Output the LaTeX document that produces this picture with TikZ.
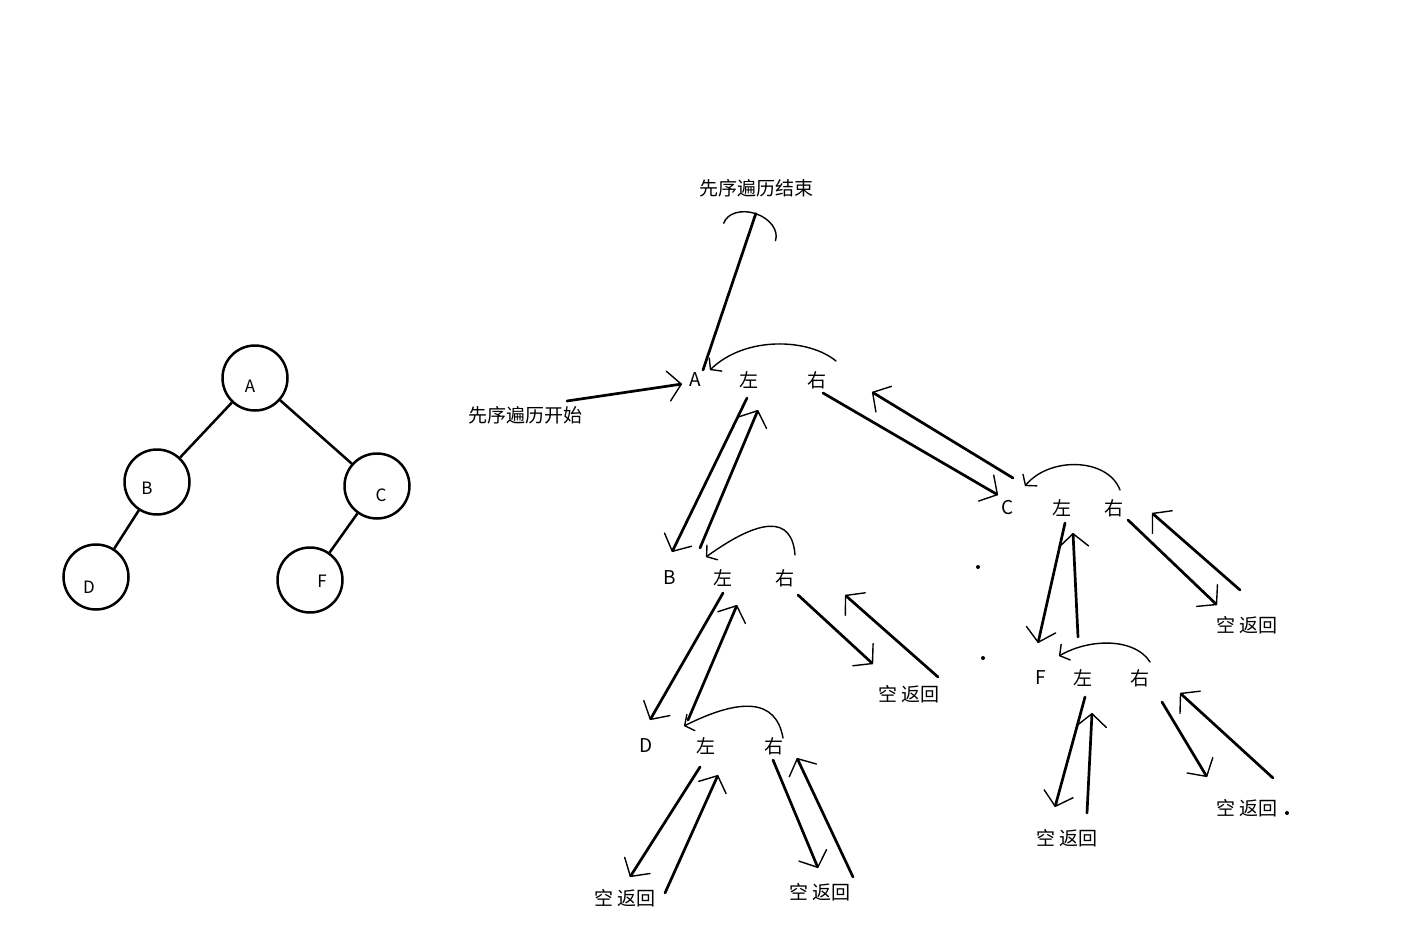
\documentclass[tikz,border=0pt]{standalone}
\usepackage{fontspec}
\setmainfont{Noto Sans CJK SC}
\usetikzlibrary{arrows.meta}
\definecolor{Pen}{HTML}{000000}
\tikzset{
  treeNode/.style={circle,draw=Pen,line width=2.5pt,minimum size=65pt,inner sep=0pt},
  treeEdge/.style={draw=Pen,line width=2.5pt},
  treeLetter/.style={font=\fontsize{17}{17}\selectfont,text=Pen,inner sep=0pt},
  walkText/.style={inner sep=0pt,font=\fontsize{19}{19}\selectfont,text=Pen},
  descend/.style={draw=Pen,line width=2.7pt,line cap=round,
    -{Straight Barb[length=13pt,width=30pt,line width=1.4pt,round]}},
  ascend/.style={descend},
  turnback/.style={draw=Pen,line width=1.4pt,line cap=round,
    -{Straight Barb[length=7pt,width=18pt,line width=1.4pt,round]}},
  finish/.style={draw=Pen,line width=2.7pt,line cap=round,
    -{Arc Barb[length=20pt,width=56pt,line width=1.4pt,round]}}
}
\begin{document}
\begin{tikzpicture}[x=1pt,y=-1pt]
  \fill[white] (0,0) rectangle (1426,928);
  \useasboundingbox (0,0) rectangle (1426,928);
  % binary tree on the left
  \node[treeNode,label={[treeLetter,xshift=-5pt,yshift=-8pt]center:A}] (ta) at (255,378) {};
  \node[treeNode,label={[treeLetter,xshift=-10pt,yshift=-6pt]center:B}] (tb) at (157,482) {};
  \node[treeNode,label={[treeLetter,xshift=4pt,yshift=-9pt]center:C}] (tc) at (377,486) {};
  \node[treeNode,label={[treeLetter,xshift=-7pt,yshift=-10pt]center:D}] (td) at (96,577) {};
  \node[treeNode,label={[treeLetter,xshift=12pt,yshift=-1pt]center:F}] (tf) at (310,580) {};
  \draw[treeEdge] (ta) -- (tb);
  \draw[treeEdge] (ta) -- (tc);
  \draw[treeEdge] (tb) -- (td);
  \draw[treeEdge] (tc) -- (tf);
  % preorder walk
  \node[walkText] (tend) at (756,188) {先序遍历结束};
  \node[walkText] (tstart) at (525,415) {先序遍历开始};
  \node[walkText] (a) at (695,380) {A};
  \node[walkText] (al) at (749,380) {左};
  \node[walkText] (ar) at (817,380) {右};
  \node[walkText] (b) at (670,578) {B};
  \node[walkText] (bl) at (723,578) {左};
  \node[walkText] (br) at (785,578) {右};
  \node[walkText] (c) at (1008,508) {C};
  \node[walkText] (cl) at (1062,508) {左};
  \node[walkText] (cr) at (1114,508) {右};
  \node[walkText] (d) at (646,746) {D};
  \node[walkText] (dl) at (706,746) {左};
  \node[walkText] (dr) at (774,746) {右};
  \node[walkText] (f) at (1041,678) {F};
  \node[walkText] (fl) at (1083,678) {左};
  \node[walkText] (fr) at (1140,678) {右};
  \node[walkText] (e1) at (909,694) {空 返回};
  \node[walkText] (e2) at (1247,625) {空 返回};
  \node[walkText] (e3) at (625,898) {空 返回};
  \node[walkText] (e4) at (820,892) {空 返回};
  \node[walkText] (e5) at (1067,838) {空 返回};
  \node[walkText] (e6) at (1247,808) {空 返回};
  \draw[descend] ([shift={(42,-14)}]tstart.center) -- ([shift={(-13,4)}]a.center);
  \draw[finish] ([shift={(8,-10)}]a.center) -- ([shift={(0,25)}]tend.center);
  \draw[turnback] ([shift={(19,-19)}]ar.center) .. controls (808,338) and (745,336) .. ([shift={(15,-10)}]a.center);
  % A: left subtree B
  \draw[descend] ([shift={(-2,18)}]al.center) -- ([shift={(2,-26)}]b.center);
  \draw[ascend] ([shift={(30,-30)}]b.center) -- ([shift={(9,30)}]al.center);
  \draw[turnback] ([shift={(10,-23)}]br.center) .. controls (792,515) and (760,518) .. ([shift={(36,-21)}]b.center);
  % A: right subtree C
  \draw[descend] ([shift={(6,13)}]ar.center) -- ([shift={(-10,-13)}]c.center);
  \draw[ascend] ([shift={(5,-30)}]c.center) -- ([shift={(55,12)}]ar.center);
  \draw[turnback] ([shift={(6,-18)}]cr.center) .. controls (1108,458) and (1050,456) .. ([shift={(17,-22)}]c.center);
  % B
  \draw[descend] ([shift={(0,15)}]bl.center) -- ([shift={(4,-26)}]d.center);
  \draw[ascend] ([shift={(42,-26)}]d.center) -- ([shift={(14,27)}]bl.center);
  \draw[descend] ([shift={(13,17)}]br.center) -- ([shift={(-36,-30)}]e1.center);
  \draw[ascend] ([shift={(29,-17)}]e1.center) -- ([shift={(60,17)}]br.center);
  \draw[turnback] ([shift={(9,-8)}]dr.center) .. controls (776,698) and (740,698) .. ([shift={(38,-20)}]d.center);
  % C
  \draw[descend] ([shift={(3,15)}]cl.center) -- ([shift={(-3,-35)}]f.center);
  \draw[ascend] ([shift={(37,-41)}]f.center) -- ([shift={(11,25)}]cl.center);
  \draw[descend] ([shift={(14,12)}]cr.center) -- ([shift={(-30,-20)}]e2.center);
  \draw[ascend] ([shift={(-7,-35)}]e2.center) -- ([shift={(38,5)}]cr.center);
  \draw[turnback] ([shift={(10,-16)}]fr.center) .. controls (1135,638) and (1090,638) .. ([shift={(18,-22)}]f.center);
  % D
  \draw[descend] ([shift={(-6,21)}]dl.center) -- ([shift={(5,-21)}]e3.center);
  \draw[ascend] ([shift={(40,-5)}]e3.center) -- ([shift={(12,29)}]dl.center);
  \draw[descend] ([shift={(-1,14)}]dr.center) -- ([shift={(-2,-24)}]e4.center);
  \draw[ascend] ([shift={(33,-15)}]e4.center) -- ([shift={(23,12)}]dr.center);
  % F
  \draw[descend] ([shift={(2,19)}]fl.center) -- ([shift={(-12,-31)}]e5.center);
  \draw[ascend] ([shift={(20,-25)}]e5.center) -- ([shift={(9,35)}]fl.center);
  \draw[descend] ([shift={(22,24)}]fr.center) -- ([shift={(-40,-31)}]e6.center);
  \draw[ascend] ([shift={(26,-30)}]e6.center) -- ([shift={(40,15)}]fr.center);
  % stray pen dots
  \fill[Pen] (978,567) circle (2pt);
  \fill[Pen] (983,658) circle (2pt);
  \fill[Pen] (1287,813) circle (2pt);
\end{tikzpicture}
\end{document}
